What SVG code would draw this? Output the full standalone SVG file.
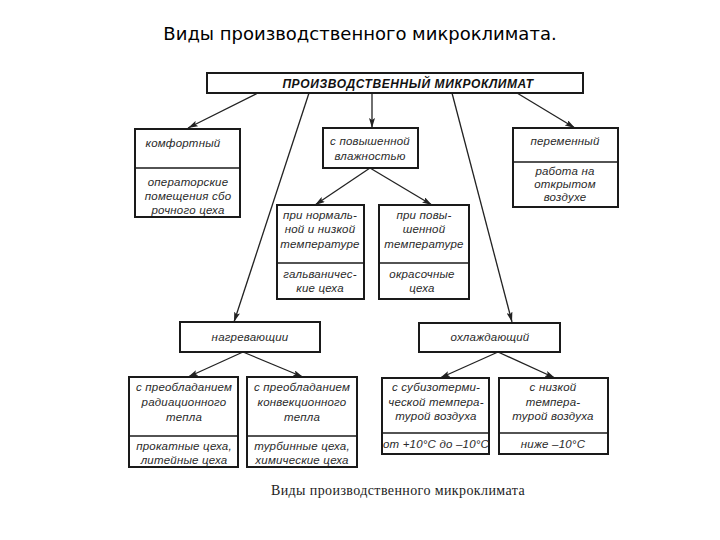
<svg xmlns="http://www.w3.org/2000/svg" width="720" height="540" viewBox="0 0 720 540">
<style>
.box{fill:#fff;stroke:#1a1a1a;stroke-width:2}
.div{stroke:#1a1a1a;stroke-width:1.6}
.t{font-family:"Liberation Sans",Arial,sans-serif;font-style:italic;font-size:11.5px;letter-spacing:0.2px;fill:#2a2a2a;text-anchor:middle}
.hd{font-family:"Liberation Sans",Arial,sans-serif;font-style:italic;font-weight:bold;font-size:12px;letter-spacing:0.6px;fill:#111;text-anchor:middle}
.ln{stroke:#222;stroke-width:1.3;fill:none}
.title{font-family:"DejaVu Sans","Noto Sans",sans-serif;font-size:18px;fill:#000;text-anchor:middle}
.cap{font-family:"Liberation Serif","Times New Roman",serif;font-size:14px;fill:#222;text-anchor:middle;letter-spacing:0.4px}
</style>
<defs>
<marker id="ah" viewBox="0 0 10 6" refX="10" refY="3" markerWidth="10" markerHeight="6" markerUnits="userSpaceOnUse" orient="auto">
<path d="M0,0 L10,3 L0,6 L2,3 z" fill="#222"/>
</marker>
</defs>
<rect width="720" height="540" fill="#fff"/>
<text class="title" x="360" y="40">Виды производственного микроклимата.</text>

<g id="connectors">
<line class="ln" x1="258" y1="93" x2="188" y2="128" marker-end="url(#ah)"/>
<line class="ln" x1="372" y1="93" x2="372" y2="128" marker-end="url(#ah)"/>
<line class="ln" x1="517" y1="93" x2="575" y2="128" marker-end="url(#ah)"/>
<line class="ln" x1="309" y1="93" x2="234" y2="322" marker-end="url(#ah)"/>
<line class="ln" x1="452" y1="93" x2="512" y2="322" marker-end="url(#ah)"/>
<line class="ln" x1="370" y1="168" x2="315" y2="205" marker-end="url(#ah)"/>
<line class="ln" x1="370" y1="168" x2="432" y2="205" marker-end="url(#ah)"/>
<line class="ln" x1="243" y1="352" x2="188" y2="377" marker-end="url(#ah)"/>
<line class="ln" x1="243" y1="352" x2="303" y2="377" marker-end="url(#ah)"/>
<line class="ln" x1="498" y1="352" x2="440" y2="378" marker-end="url(#ah)"/>
<line class="ln" x1="498" y1="352" x2="555" y2="378" marker-end="url(#ah)"/>
</g>

<g id="root">
<rect class="box" x="207" y="73" width="376" height="20"/>
<text class="hd" x="408" y="88">ПРОИЗВОДСТВЕННЫЙ МИКРОКЛИМАТ</text>
</g>

<g id="komfort">
<rect class="box" x="135" y="129" width="105" height="88"/>
<line class="div" x1="135" y1="168" x2="240" y2="168"/>
<text class="t" x="183" y="147">комфортный</text>
<text class="t" x="188" y="186">операторские</text>
<text class="t" x="188" y="200">помещения сбо</text>
<text class="t" x="188" y="214">рочного цеха</text>
</g>

<g id="humid">
<rect class="box" x="323" y="128" width="95" height="40"/>
<text class="t" x="370" y="145">с повышенной</text>
<text class="t" x="370" y="160">влажностью</text>
</g>

<g id="variable">
<rect class="box" x="513" y="128" width="105" height="79"/>
<line class="div" x1="513" y1="162" x2="618" y2="162"/>
<text class="t" x="565" y="145">переменный</text>
<text class="t" x="565" y="175">работа на</text>
<text class="t" x="565" y="188">открытом</text>
<text class="t" x="565" y="201">воздухе</text>
</g>

<g id="humid-normal">
<rect class="box" x="277" y="205" width="87" height="94"/>
<line class="div" x1="277" y1="263" x2="364" y2="263"/>
<text class="t" x="320" y="219">при нормаль-</text>
<text class="t" x="320" y="233">ной и низкой</text>
<text class="t" x="320" y="248">температуре</text>
<text class="t" x="320" y="278">гальваничес-</text>
<text class="t" x="320" y="292">кие цеха</text>
</g>

<g id="humid-high">
<rect class="box" x="379" y="205" width="90" height="94"/>
<line class="div" x1="379" y1="263" x2="469" y2="263"/>
<text class="t" x="424" y="219">при повы-</text>
<text class="t" x="424" y="233">шенной</text>
<text class="t" x="424" y="248">температуре</text>
<text class="t" x="422" y="278">окрасочные</text>
<text class="t" x="422" y="292">цеха</text>
</g>

<g id="heating">
<rect class="box" x="180" y="322" width="140" height="30"/>
<text class="t" x="250" y="341">нагревающии</text>
</g>

<g id="heat-rad">
<rect class="box" x="129" y="377" width="109" height="90"/>
<line class="div" x1="129" y1="436" x2="238" y2="436"/>
<text class="t" x="184" y="391">с преобладанием</text>
<text class="t" x="184" y="406">радиационного</text>
<text class="t" x="184" y="421">тепла</text>
<text class="t" x="184" y="450">прокатные цеха,</text>
<text class="t" x="184" y="464">литейные цеха</text>
</g>

<g id="heat-conv">
<rect class="box" x="247" y="377" width="110" height="90"/>
<line class="div" x1="247" y1="436" x2="357" y2="436"/>
<text class="t" x="302" y="391">с преобладанием</text>
<text class="t" x="302" y="406">конвекционного</text>
<text class="t" x="302" y="421">тепла</text>
<text class="t" x="302" y="450">турбинные цеха,</text>
<text class="t" x="302" y="464">химические цеха</text>
</g>

<g id="cooling">
<rect class="box" x="419" y="323" width="141" height="29"/>
<text class="t" x="490" y="341">охлаждающий</text>
</g>

<g id="cool-sub">
<rect class="box" x="382" y="378" width="107" height="76"/>
<line class="div" x1="382" y1="433" x2="489" y2="433"/>
<text class="t" x="436" y="391">с субизотерми-</text>
<text class="t" x="436" y="406">ческой темпера-</text>
<text class="t" x="436" y="420">турой воздуха</text>
<text class="t" x="436" y="448" font-size="11" letter-spacing="-0.2">от +10°С до –10°С</text>
</g>

<g id="cool-low">
<rect class="box" x="499" y="378" width="109" height="76"/>
<line class="div" x1="499" y1="433" x2="608" y2="433"/>
<text class="t" x="553" y="391">с низкой</text>
<text class="t" x="553" y="406">темпера-</text>
<text class="t" x="553" y="420">турой воздуха</text>
<text class="t" x="553" y="448">ниже –10°С</text>
</g>

<text class="cap" x="398" y="495">Виды  производственного  микроклимата</text>
</svg>
